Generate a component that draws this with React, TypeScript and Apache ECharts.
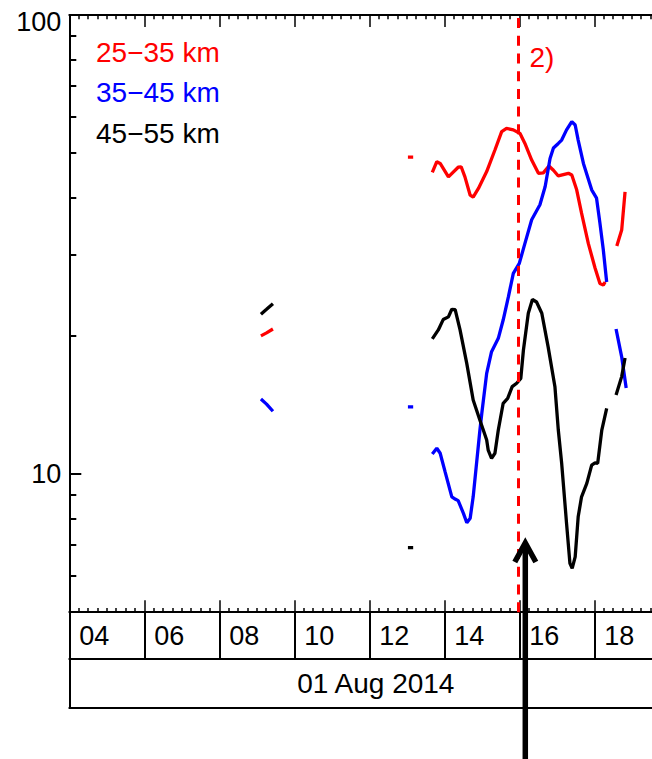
import React, { useEffect, useRef } from 'react';
import * as echarts from 'echarts';

// ---- data (hour of day on 01 Aug 2014, value); null = gap ----
const redHours = [9.11, 9.26, 9.43, 11.0, 13.03, 13.17, 13.4,
  13.68, 13.80, 13.89, 14.11, 14.37, 14.45, 14.55, 14.69, 14.77, 14.91, 15.13, 15.35, 15.53, 15.66,
  15.84, 16.02, 16.15, 16.33, 16.51, 16.64, 16.79, 16.91, 17.04, 17.31, 17.40, 17.53, 17.66, 17.84,
  18.02, 18.15, 18.24, 18.29, 18.45, 18.60, 18.73, 18.82];
const redValues = [20.0, 20.3, 20.7, null, 49.0, 49.0, null,
  45.4, 47.9, 47.5, 44.4, 46.6, 46.7, 44.4, 40.5, 40.1, 41.9, 45.6, 50.8, 55.7, 56.6,
  56.2, 55.2, 52.5, 48.3, 45.2, 45.3, 46.9, 45.9, 44.6, 45.2, 44.8, 41.6, 37.0, 31.8,
  28.1, 26.0, 25.8, 26.2, null, 31.4, 34.0, 41.2];

const blueHours = [9.11, 9.26, 9.43, 11.0, 13.03, 13.17, 13.4,
  13.68, 13.80, 13.89, 14.02, 14.20, 14.30, 14.37, 14.51, 14.60, 14.69, 14.77, 14.86, 14.95, 15.00,
  15.13, 15.26, 15.44, 15.57, 15.71, 15.84, 16.00, 16.15, 16.33, 16.55, 16.69, 16.82, 16.91, 17.04,
  17.13, 17.26, 17.40, 17.49, 17.57, 17.71, 17.93, 18.06, 18.15, 18.24, 18.33, 18.45, 18.58, 18.73, 18.85];
const blueValues = [14.57, 14.2, 13.7, null, 14.0, 14.0, null,
  11.05, 11.38, 11.1, 10.12, 8.92, 8.81, 8.75, 8.21, 7.83, 8.01, 8.92, 10.55, 12.47, 13.56,
  16.57, 18.47, 19.75, 21.65, 24.34, 27.37, 28.77, 31.8, 35.8, 38.6, 42.3, 48.7, 51.3, 52.5,
  53.4, 56.2, 58.6, 57.6, 53.4, 47.5, 41.6, 39.9, 35.2, 30.8, 26.2, null, 20.7, 18.0, 15.4];

const blackHours = [9.11, 9.26, 9.43, 11.0, 13.03, 13.17, 13.4,
  13.68, 13.84, 13.97, 14.11, 14.20, 14.29, 14.42, 14.60, 14.77, 14.95, 15.04, 15.13, 15.17, 15.26,
  15.35, 15.44, 15.57, 15.69, 15.81, 15.93, 16.04, 16.11, 16.24, 16.35, 16.46, 16.60, 16.77, 16.95,
  17.04, 17.13, 17.26, 17.35, 17.41, 17.49, 17.57, 17.66, 17.80, 17.93, 18.02, 18.09, 18.20, 18.33,
  18.45, 18.58, 18.73, 18.82];
const blackValues = [22.3, 22.85, 23.5, null, 6.91, 6.91, null,
  19.7, 20.6, 21.7, 22.0, 22.85, 22.8, 20.6, 17.4, 14.5, 13.1, 12.47, 11.86, 11.28, 10.82,
  11.1, 12.47, 14.26, 14.62, 15.5, 15.77, 16.16, 18.63, 22.4, 24.0, 23.7, 22.4, 18.9, 15.5,
  12.47, 10.55, 7.81, 6.39, 6.23, 6.60, 8.07, 8.92, 9.54, 10.46, 10.58, 10.55, 12.47, 13.9,
  null, 14.87, 16.3, 17.9];

const seriesNames = ['25\u221235 km', '35\u221245 km', '45\u221255 km'];
const seriesColors = ['#ff0000', '#0000ff', '#000000'];

const yMajorTicks = [10, 100];
const yMajorLabels = ['10', '100'];
const yMinorTicks = [6, 7, 8, 9, 20, 30, 40, 50, 60, 70, 80, 90];
const hourTicks = [4, 6, 8, 10, 12, 14, 16, 18];
const hourLabels = ['04', '06', '08', '10', '12', '14', '16', '18'];
const dateLabel = '01 Aug 2014';
const eventHour = 15.98;
const eventLabel = '2)';
const arrowHour = 16.16;

const FONT = 'Liberation Sans';
const FS = 27;
const FS_BIG = 28;

function toPairs(h: number[], v: (number | null)[]) {
  return h.map((x, i) => [x, v[i] === null ? '-' : v[i]]);
}

export default function App() {
  const ref = useRef<HTMLDivElement>(null);
  useEffect(() => {
    if (!ref.current) return;
    const chart = echarts.init(ref.current, null, { renderer: 'svg' });
    const xBase = {
      type: 'value', min: 4, max: 20, interval: 2, gridIndex: 0,
      splitLine: { show: false },
    };
    const option: any = {
      animation: false,
      backgroundColor: '#ffffff',
      textStyle: { fontFamily: FONT },
      grid: { left: 69.3, top: 15, width: 600, height: 597.2, outerBoundsMode: 'none', containLabel: false },
      legend: {
        orient: 'vertical', left: 86, top: 33, icon: 'none', itemWidth: 0, itemHeight: 28,
        itemGap: 12.5, selectedMode: false,
        textStyle: { fontSize: FS_BIG, fontFamily: FONT, lineHeight: 28 },
        data: seriesNames.map((n, i) => ({ name: n, textStyle: { color: seriesColors[i] } })),
      },
      xAxis: [
        {
          ...xBase, position: 'bottom',
          axisLine: { show: true, onZero: false, lineStyle: { color: '#000', width: 2 } },
          axisTick: { show: true, inside: true, length: 12, lineStyle: { color: '#000', width: 1.5 } },
          minorTick: { show: true, splitNumber: 8, length: 4.3, lineStyle: { color: '#000', width: 1.5 } },
          axisLabel: { show: false },
        },
        {
          ...xBase, position: 'top',
          axisLine: { show: true, onZero: false, lineStyle: { color: '#000', width: 2 } },
          axisTick: { show: true, inside: true, length: 12, lineStyle: { color: '#000', width: 1.5 } },
          minorTick: { show: true, splitNumber: 8, length: 4.3, lineStyle: { color: '#000', width: 1.5 } },
          axisLabel: { show: false },
        },
        {
          ...xBase, position: 'bottom', offset: 47,
          axisLine: { show: true, onZero: false, lineStyle: { color: '#000', width: 2 } },
          axisTick: { show: true, inside: true, length: 47, lineStyle: { color: '#000', width: 2 } },
          axisLabel: {
            show: true, inside: true, margin: 23.5, verticalAlign: 'middle', align: 'left',
            padding: [0, 0, 0, 10], fontSize: FS, fontFamily: FONT, color: '#000',
            customValues: hourTicks,
            formatter: (v: number) => { const i = hourTicks.indexOf(Math.round(v)); return i >= 0 ? hourLabels[i] : ''; },
          },
        },
        {
          ...xBase, position: 'bottom', offset: 96,
          axisLine: { show: true, onZero: false, lineStyle: { color: '#000', width: 2 } },
          axisTick: { show: true, inside: true, length: 49, customValues: [4], lineStyle: { color: '#000', width: 2 } },
          axisLabel: { show: false },
          name: dateLabel, nameLocation: 'middle', nameGap: -24.5,
          nameTextStyle: { fontSize: FS_BIG, fontFamily: FONT, color: '#000', verticalAlign: 'middle', padding: [0, 0, 0, 13] },
        },
      ],
      yAxis: [
        {
          type: 'log', logBase: 10, min: 5, max: 100, position: 'left',
          splitLine: { show: false },
          axisLine: { show: true, onZero: false, lineStyle: { color: '#000', width: 2 } },
          axisTick: { show: true, inside: true, length: 12, customValues: yMajorTicks, lineStyle: { color: '#000', width: 2 } },
          axisLabel: {
            show: true, margin: 8, color: '#000', fontSize: FS, fontFamily: FONT,
            customValues: yMajorTicks,
            formatter: (v: number) => {
              const i = yMajorTicks.findIndex((t) => Math.abs(t - v) < 1e-6);
              if (i < 0) return '';
              return v > 50 ? '{top|' + yMajorLabels[i] + '}' : '{n|' + yMajorLabels[i] + '}';
            },
            rich: {
              top: { fontSize: FS, fontFamily: FONT, color: '#000', padding: [14, 0, 0, 0] },
              n: { fontSize: FS, fontFamily: FONT, color: '#000' },
            },
          },
        },
        {
          type: 'log', logBase: 10, min: 5, max: 100, position: 'left',
          splitLine: { show: false },
          axisLine: { show: false },
          axisTick: { show: true, inside: true, length: 7, customValues: yMinorTicks, lineStyle: { color: '#000', width: 2 } },
          axisLabel: { show: false },
        },
      ],
      series: [
        { h: redHours, v: redValues },
        { h: blueHours, v: blueValues },
        { h: blackHours, v: blackValues },
      ].map((s, i) => ({
        name: seriesNames[i],
        type: 'line',
        xAxisIndex: 0,
        yAxisIndex: 0,
        data: toPairs(s.h, s.v),
        showSymbol: false,
        connectNulls: false,
        color: seriesColors[i],
        lineStyle: { color: seriesColors[i], width: 3.3 },
        z: 3,
        ...(i === 0
          ? {
              markLine: {
                silent: true, symbol: ['none', 'none'], label: { show: false },
                lineStyle: { color: '#ff0000', width: 3, type: [10, 7.7] },
                data: [{ xAxis: eventHour }],
              },
            }
          : {}),
      })),
    };
    chart.setOption(option);
    const ax = chart.convertToPixel({ xAxisIndex: 0 }, arrowHour) as number;
    const ex = chart.convertToPixel({ xAxisIndex: 0 }, eventHour) as number;
    chart.setOption({
      graphic: [
        {
          type: 'text', x: ex + 11, y: 57,
          style: { text: eventLabel, fill: '#ff0000', fontSize: FS_BIG, fontFamily: FONT, verticalAlign: 'middle', align: 'left' },
          z: 10,
        },
        {
          type: 'line', shape: { x1: ax, y1: 759, x2: ax, y2: 545 },
          style: { stroke: '#000', lineWidth: 5.5 }, z: 10,
        },
        {
          type: 'polyline', shape: { points: [[ax - 10.5, 562], [ax, 543], [ax + 10.5, 562]] },
          style: { stroke: '#000', lineWidth: 5.5, fill: null, lineJoin: 'miter', lineCap: 'butt' }, z: 10,
        },
      ],
    });
    return () => chart.dispose();
  }, []);
  return <div ref={ref} style={{ position: 'fixed', left: 0, top: 0, width: 652, height: 759 }} />;
}
